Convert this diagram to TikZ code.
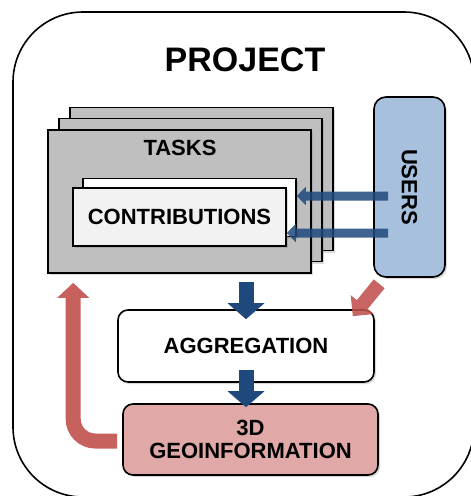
\documentclass[tikz,border=0pt]{standalone}
\usepackage{fontspec}
\setmainfont{Liberation Sans}
\usetikzlibrary{arrows.meta,shadows}
\definecolor{darkblue}{HTML}{1F497D}
\definecolor{darkred}{HTML}{C0504D}
\definecolor{userblue}{HTML}{A7C0DE}
\definecolor{geored}{HTML}{E0A8A6}
\begin{document}
\begin{tikzpicture}[x=1pt,y=-1pt,
  txt/.style={font=\bfseries\fontsize{22}{25}\selectfont},
  box/.style={draw,line width=1.6pt,inner sep=0pt,txt,
    drop shadow={shadow xshift=2pt,shadow yshift=-2pt,opacity=.3}},
  sheet/.style={box,fill=black!25,minimum width=263,minimum height=143},
  card/.style={box,minimum width=213,minimum height=58},
  bluearrow/.style={darkblue,line width=9pt,-{Triangle[width=18pt,length=9pt]}},
  downarrow/.style={darkblue,line width=15pt,-{Triangle[width=36pt,length=16pt]}},
  redarrow/.style={darkred,line width=15pt,-{Triangle[width=31pt,length=15pt]}}]
\useasboundingbox (0,0) rectangle (471,496);
\draw[line width=1.6pt,rounded corners=70pt] (13,12) rectangle (474,497);
\node[font=\bfseries\fontsize{34}{38}\selectfont] (project) at (245,60) {PROJECT};

% task sheets
\node[sheet] (tasks3) at (201.5,179) {};
\node[sheet] (tasks2) at (190.5,190) {};
\node[sheet] (tasks) at (179.5,201.5) {};
\node[txt] (taskslabel) at (180,148) {TASKS};
\node[card,fill=white] (contribback) at (189.5,207.5) {};
\node[card,fill=black!5] (contrib) at (179.5,217) {CONTRIBUTIONS};

% rotated: south is the left side, east the bottom
\node[box,fill=userblue,rounded corners=12pt,rotate=-90,
  minimum width=180,minimum height=71] (users) at (409.5,187) {USERS};

\node[box,fill=white,rounded corners=10pt,minimum width=256,minimum height=72]
  (agg) at (246,346) {AGGREGATION};
\node[box,fill=geored,rounded corners=10pt,minimum width=255,minimum height=71,
  align=center] (geo) at (250.5,439.5) {3D\\[-2pt]GEOINFORMATION};

% arrows
\begin{scope}[transparency group,opacity=.85]
\draw[bluearrow] ([xshift=15pt,yshift=-9pt]users.south) -- ([yshift=-9pt]users.south -| contribback.east);
\end{scope}
\begin{scope}[transparency group,opacity=.85]
\draw[bluearrow] ([xshift=15pt,yshift=-46pt]users.south) -- ([yshift=-46pt]users.south -| contrib.east);
\end{scope}
\draw[downarrow] ([yshift=-8pt]tasks.south -| agg.north) -- ([yshift=-10pt]agg.north);
\draw[downarrow] ([yshift=13pt]agg.south) -- ([yshift=-4pt]agg.south |- geo.north);
\begin{scope}[transparency group,opacity=.88]
\draw[redarrow,line width=14pt,-{Triangle[width=29pt,length=15pt]}]
  ([shift={(6,6)}]users.south east) -- ([shift={(-22,7)}]agg.north east);
\end{scope}
\begin{scope}[transparency group,opacity=.9]
\draw[redarrow,rounded corners=22pt] ([xshift=-5pt,yshift=-1.5pt]geo.west)
  -| ([shift={(26,9)}]tasks.south west);
\end{scope}
\end{tikzpicture}
\end{document}
